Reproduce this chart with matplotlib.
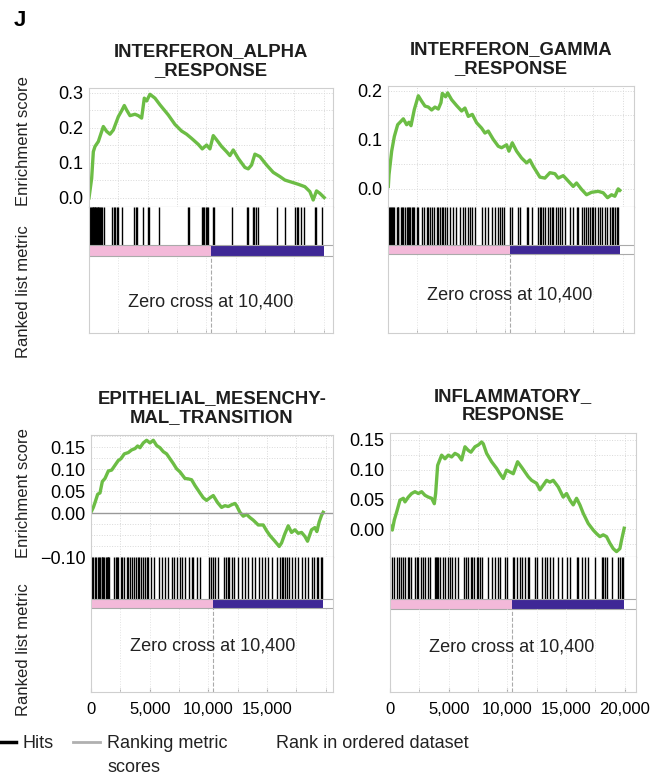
import matplotlib
matplotlib.use('Agg')
import matplotlib.pyplot as plt
from matplotlib.lines import Line2D
from matplotlib.ticker import MultipleLocator, FixedLocator

plt.rcParams['font.family'] = ['Liberation Sans', 'DejaVu Sans']

#canvas size in pixels
W, H = 657, 775

#gene set names
titles = ['INTERFERON_ALPHA\n_RESPONSE', 'INTERFERON_GAMMA\n_RESPONSE',
          'EPITHELIAL_MESENCHY-\nMAL_TRANSITION', 'INFLAMMATORY_\nRESPONSE']

zero_cross = 10400

############################################
# running enrichment score (rank, ES)
############################################
alpha_rank = [0, 227, 369, 511, 795, 1221, 1505, 1789, 2073, 2499, 2783, 3010, 3209, 3493, 3919,
              4203, 4487, 4714, 4913, 5197, 5623, 6049, 6759, 7327, 7895, 8321, 8747, 9315, 9656,
              10025, 10309, 10593, 10877, 11303, 11729, 12013, 12297, 12723, 13291, 13575, 13859,
              14143, 14569, 15137, 15705, 16273, 16699, 17267, 17835, 18403, 18829, 19113, 19397,
              19681, 20050]
alpha_es = [0.0, 0.056, 0.132, 0.147, 0.161, 0.204, 0.190, 0.182, 0.194, 0.232, 0.249, 0.264, 0.251,
            0.235, 0.239, 0.235, 0.228, 0.285, 0.277, 0.296, 0.285, 0.266, 0.237, 0.210, 0.191, 0.182,
            0.170, 0.153, 0.140, 0.151, 0.140, 0.178, 0.166, 0.147, 0.132, 0.121, 0.137, 0.113, 0.087,
            0.083, 0.094, 0.125, 0.118, 0.094, 0.073, 0.061, 0.051, 0.045, 0.039, 0.032, 0.018, -0.006,
            0.020, 0.013, 0.001]

gamma_rank = [28, 85, 312, 540, 824, 1108, 1306, 1590, 1789, 1960, 2244, 2584, 2868, 3152, 3436, 3720,
              4004, 4288, 4516, 4629, 4913, 5084, 5424, 5850, 6276, 6560, 6844, 7185, 7554, 7980, 8264,
              8548, 8974, 9400, 9684, 10110, 10309, 10593, 10962, 11388, 11814, 12098, 12382, 12950,
              13376, 13802, 14228, 14512, 14938, 15364, 15790, 16074, 16500, 16926, 17352, 17920,
              18346, 18716, 19056, 19340, 19624, 19766]
gamma_es = [0.005, 0.029, 0.077, 0.107, 0.131, 0.138, 0.143, 0.131, 0.136, 0.129, 0.162, 0.190, 0.179,
            0.169, 0.167, 0.161, 0.167, 0.163, 0.176, 0.195, 0.188, 0.196, 0.182, 0.170, 0.159, 0.165,
            0.148, 0.152, 0.135, 0.124, 0.114, 0.118, 0.101, 0.087, 0.084, 0.090, 0.077, 0.094, 0.077,
            0.063, 0.053, 0.059, 0.046, 0.024, 0.022, 0.033, 0.031, 0.022, 0.027, 0.016, 0.005, 0.012,
            -0.001, -0.012, -0.007, -0.005, -0.008, -0.018, -0.012, -0.015, 0.000, -0.003]

emt_rank = [0, 199, 341, 568, 767, 966, 1193, 1477, 1761, 2045, 2329, 2556, 2840, 3181, 3465, 3749,
            3976, 4175, 4459, 4743, 5027, 5311, 5595, 5879, 6163, 6447, 6731, 7015, 7299, 7583, 8009,
            8293, 8577, 8861, 9287, 9571, 9855, 10139, 10423, 10792, 11133, 11417, 11701, 11985, 12269,
            12411, 12695, 12979, 13263, 13547, 13831, 14257, 14683, 14967, 15251, 15677, 16046, 16245,
            16529, 16813, 17097, 17381, 17665, 17949, 18233, 18460, 18800, 19085, 19255, 19454, 19653,
            19795]
emt_es = [0.002, 0.013, 0.024, 0.043, 0.046, 0.072, 0.079, 0.096, 0.098, 0.109, 0.120, 0.124, 0.135,
          0.138, 0.144, 0.147, 0.153, 0.149, 0.160, 0.166, 0.160, 0.166, 0.154, 0.149, 0.140, 0.135,
          0.124, 0.113, 0.101, 0.094, 0.079, 0.078, 0.076, 0.063, 0.046, 0.035, 0.029, 0.035, 0.040,
          0.024, 0.013, 0.017, 0.015, 0.019, 0.022, 0.017, 0.002, -0.007, -0.003, -0.010, -0.016,
          -0.027, -0.027, -0.040, -0.051, -0.064, -0.076, -0.068, -0.047, -0.029, -0.044, -0.038,
          -0.046, -0.044, -0.053, -0.064, -0.038, -0.033, -0.042, -0.020, -0.005, 0.002]

infl_rank = [0, 199, 369, 568, 852, 1136, 1278, 1562, 1846, 2130, 2414, 2698, 2982, 3266, 3550, 3777,
             3891, 4061, 4402, 4686, 4970, 5254, 5538, 5822, 6106, 6390, 6674, 6901, 7242, 7526, 7810,
             7952, 8236, 8662, 9088, 9372, 9656, 9940, 10224, 10508, 10877, 11218, 11502, 11786, 12070,
             12496, 12780, 13064, 13348, 13632, 13916, 14342, 14768, 15052, 15336, 15620, 15904, 16188,
             16472, 16898, 17324, 17608, 17892, 18176, 18460, 18744, 19028, 19312, 19596, 19738, 19965]
infl_es = [0.007, -0.001, 0.016, 0.029, 0.049, 0.052, 0.046, 0.054, 0.060, 0.063, 0.060, 0.063, 0.057,
           0.054, 0.052, 0.043, 0.060, 0.107, 0.124, 0.118, 0.124, 0.121, 0.127, 0.124, 0.116, 0.138,
           0.132, 0.129, 0.138, 0.141, 0.146, 0.143, 0.127, 0.113, 0.102, 0.093, 0.085, 0.099, 0.096,
           0.093, 0.113, 0.104, 0.096, 0.088, 0.082, 0.077, 0.066, 0.074, 0.082, 0.079, 0.082, 0.071,
           0.054, 0.060, 0.049, 0.041, 0.052, 0.041, 0.027, 0.010, -0.001, -0.007, -0.012, -0.009,
           -0.012, -0.023, -0.032, -0.037, -0.032, -0.018, 0.002]

############################################
# hit positions (rank of each gene of the set)
############################################
alpha_hits = [90, 150, 230, 300, 360, 420, 480, 540, 610, 680, 740, 800, 870, 950, 1030, 1080,
              1306, 1988, 2102, 2215, 2357, 2499, 2783, 3862, 3976, 4061, 4629, 5055, 5112, 5964,
              8463, 8520, 9599, 9741, 9826, 9940, 10025, 10110, 10593, 10678, 12155, 13433, 13575,
              14001, 14086, 14200, 14370, 15989, 16699, 17551, 17693, 17835, 18062, 18346, 19255,
              19340, 19823]
gamma_hits = [85, 170, 256, 369, 454, 540, 738, 824, 880, 1108, 1221, 1306, 1448, 1590, 1676, 1789,
              1874, 2016, 2158, 2244, 2442, 2584, 2868, 3096, 3294, 3436, 3578, 3720, 3948, 4146,
              4288, 4430, 4572, 4714, 4856, 4998, 5282, 5566, 5765, 6134, 6418, 6560, 6844, 6986,
              7185, 7412, 7980, 8264, 8548, 8889, 9116, 9400, 9542, 9741, 9912, 10394, 10536, 11104,
              11246, 11814, 11956, 12240, 12808, 12950, 13036, 13234, 13376, 13660, 13802, 13944,
              14086, 14285, 14512, 14654, 14796, 15080, 15506, 15790, 16074, 16216, 16500, 16728,
              16841, 17068, 17210, 17352, 17494, 17636, 17920, 18062, 18204, 18488, 18630, 18914,
              19056, 19198, 19340, 19482, 19624]
emt_hits = [57, 199, 341, 426, 568, 682, 767, 909, 966, 1051, 1136, 1250, 1335, 1420, 1477, 1534,
            1988, 2102, 2187, 2329, 2556, 2670, 2840, 3039, 3181, 3323, 3465, 3692, 3806, 3976, 4090,
            4260, 4459, 4601, 4743, 4885, 5112, 5396, 5794, 6078, 6305, 6589, 6873, 7100, 7299, 7583,
            7782, 8009, 8350, 8577, 8719, 9003, 9287, 10054, 10224, 10366, 10565, 10849, 11360, 11474,
            11644, 11758, 11985, 12212, 12496, 12894, 13121, 13405, 13689, 13973, 14314, 14541,
            14825, 15052, 15393, 15819, 16103, 16245, 16387, 16529, 16671, 16870, 17097, 17381,
            17665, 17949, 18233, 18460, 18800, 19028, 19227, 19369, 19596, 19710]
infl_hits = [199, 369, 568, 767, 937, 1136, 1278, 1505, 1619, 1789, 2130, 2272, 2414, 2641, 2840,
             2982, 3209, 3408, 3834, 3891, 3976, 4061, 4260, 4544, 4686, 4913, 5112, 5254, 5538,
             5765, 6333, 6447, 6617, 6901, 7015, 7185, 7384, 7526, 7668, 7810, 8321, 8662, 8946,
             9230, 9372, 9798, 9940, 10508, 10593, 10792, 11076, 11218, 11502, 11729, 11843, 12354,
             12496, 12922, 13206, 13348, 13632, 13916, 14342, 14626, 15052, 15336, 15904, 16046,
             16330, 16614, 16898, 17466, 18034, 18176, 18318, 18460, 18886, 19454, 19596, 19738,
             19880]

es_ranks = [alpha_rank, gamma_rank, emt_rank, infl_rank]
es_values = [alpha_es, gamma_es, emt_es, infl_es]
hit_ranks = [alpha_hits, gamma_hits, emt_hits, infl_hits]

#y ticks of the enrichment score axes
es_ticks = [[0.0, 0.1, 0.2, 0.3], [0.0, 0.1, 0.2],
            [-0.10, 0.00, 0.05, 0.10, 0.15], [0.00, 0.05, 0.10, 0.15]]
x_ticks = [[], [], [0, 5000, 10000, 15000], [0, 5000, 10000, 15000, 20000]]

############################################
# layout (pixels): left, top, right, es bottom, hits bottom, bar bottom, bottom, text y
############################################
layouts = [(89, 88, 333, 207, 245, 256, 333, 302),
           (388, 86, 634, 207, 245, 254, 333, 295),
           (91, 435, 333, 557, 599, 608, 692, 646),
           (390, 433, 636, 557, 599, 609, 692, 647)]
ylims = [(-0.026, 0.314), (-0.037, 0.210), (-0.10, 0.178), (-0.046, 0.161)]
rank_per_px = 85.25

green = '#6cbd45'
pink = '#f3b9d9'
blue = '#3f2896'
frame = '#cfcfcf'


def rect(l, t, r, b):
    return [l / W, 1 - b / H, (r - l) / W, (b - t) / H]


fig = plt.figure(figsize=(W / 100, H / 100), dpi=100)

for i in range(4):
    l, t, r, eb, hb, bb, b, ty = layouts[i]
    xmax = (r - l) * rank_per_px
    end = es_ranks[i][-1]

    # enrichment score panel
    ax = fig.add_axes(rect(l, t, r, eb))
    ax.plot(es_ranks[i], es_values[i], color=green, lw=2.4)
    ax.set_xlim(0, xmax)
    ax.set_ylim(*ylims[i])
    ax.set_xticks(range(0, 22500, 2500))
    ax.set_yticks(es_ticks[i])
    fmt = '%.1f' if i < 2 else '%.2f'
    ax.set_yticklabels([(fmt % v).replace('-', '\u2212') for v in es_ticks[i]])
    ax.yaxis.set_minor_locator(MultipleLocator(0.05 if i < 2 else 0.025))
    ax.grid(True, which='both', color='#d9d9d9', ls=':', lw=0.7)
    ax.tick_params(axis='both', which='both', length=0, labelbottom=False, labelsize=13, pad=4)
    if i == 2:
        ax.axhline(0, color='#999999', lw=1)
    for s in ax.spines.values():
        s.set_color(frame)
    ax.spines['bottom'].set_color('#9a9a9a')
    ax.set_title(titles[i], fontsize=13.3, fontweight='bold', pad=9, linespacing=1.2,
                 color='#1e1e1e')

    # hits, ranking bar and ranked list metric panel
    ax2 = fig.add_axes(rect(l, eb, r, b))
    ax2.set_xlim(0, xmax)
    ax2.set_ylim(0, 1)
    hf = (b - hb) / (b - eb)
    bf = (b - bb) / (b - eb)
    ax2.vlines(hit_ranks[i], hf, 1, color='black', lw=1.0)
    ax2.broken_barh([(0, zero_cross), (zero_cross, end - zero_cross)], (bf, hf - bf),
                    facecolors=[pink, blue])
    ax2.axhline(hf, color='#aaaaaa', lw=0.8)
    ax2.axhline(bf, color='#aaaaaa', lw=0.8)
    ax2.vlines(range(2500, int(xmax), 2500), 0, bf, color='#e3e3e3', ls=':', lw=0.7)
    ax2.vlines(zero_cross, 0, bf, color='#aaaaaa', ls='--', lw=0.8)
    ax2.text(zero_cross, (b - ty) / (b - eb), f'Zero cross at {zero_cross:,}',
             ha='center', va='center', fontsize=13, color='#222222')
    ax2.set_yticks([])
    ax2.xaxis.set_major_locator(FixedLocator(x_ticks[i]))
    ax2.set_xticklabels([f'{v:,}' for v in x_ticks[i]])
    ax2.xaxis.set_minor_locator(MultipleLocator(2500))
    ax2.tick_params(axis='x', which='both', direction='in', length=3, color='#aaaaaa',
                    labelsize=12, pad=7)
    for s in ax2.spines.values():
        s.set_color(frame)
    ax2.spines['top'].set_visible(False)

# axis labels
for yc in (141, 493):
    fig.text(24 / W, 1 - yc / H, 'Enrichment score', rotation=90, ha='center', va='center',
             fontsize=12, color='#222222')
for yc in (292, 650):
    fig.text(24 / W, 1 - yc / H, 'Ranked list metric', rotation=90, ha='center', va='center',
             fontsize=12, color='#222222')

fig.text(20 / W, 1 - 20 / H, 'J', fontsize=16, fontweight='bold', ha='center', va='center')

# legend
fig.add_artist(Line2D([0 / W, 16 / W], [1 - 742 / H] * 2, color='black', lw=2.5))
fig.text(23 / W, 1 - 743 / H, 'Hits', fontsize=13, va='center', color='#222222')
fig.add_artist(Line2D([73 / W, 100 / W], [1 - 742 / H] * 2, color='#b0b0b0', lw=2))
fig.text(107 / W, 1 - 743 / H, 'Ranking metric', fontsize=13, va='center', color='#222222')
fig.text(107 / W, 1 - 767 / H, 'scores', fontsize=13, va='center', color='#222222')
fig.text(276 / W, 1 - 743 / H, 'Rank in ordered dataset', fontsize=13, va='center', color='#222222')

fig.savefig('out.png', dpi=100)
